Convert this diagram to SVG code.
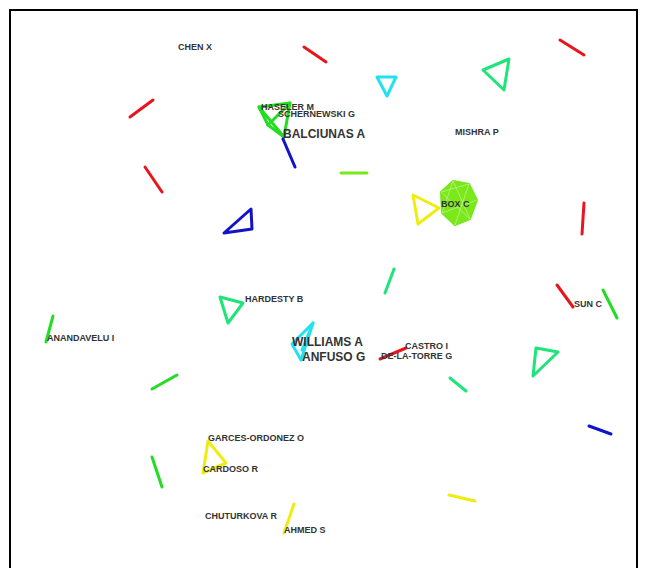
<svg xmlns="http://www.w3.org/2000/svg" width="648" height="568" viewBox="0 0 648 568">
<style>
.l{fill:none;stroke-width:3;stroke-linecap:round;stroke-linejoin:round}
.r{stroke:#e8141e}.g{stroke:#22dd22}.s{stroke:#1de57a}.c{stroke:#22e2f0}.b{stroke:#1212c8}.y{stroke:#eded12}.ch{stroke:#77e81a}
text{font-family:"Liberation Sans",Arial,sans-serif;font-weight:bold;fill:#333;font-size:9px}
text.big{font-size:12px}
</style>
<rect width="648" height="568" fill="#fff"/>
<rect x="10" y="10" width="627" height="570" fill="none" stroke="#000" stroke-width="2"/>
<g id="connectors">
<line class="l r" x1="130" y1="117" x2="153" y2="100"/>
<line class="l r" x1="145" y1="167" x2="162" y2="192"/>
<line class="l r" x1="304" y1="47" x2="326" y2="62"/>
<polygon class="l c" points="377,77 396,77 387,96"/>
<polygon class="l g" points="259,107 290,103 284,137 268,125"/>
<line class="l g" x1="259" y1="107" x2="284" y2="137"/>
<line class="l g" x1="290" y1="103" x2="268" y2="125"/>
<line class="l b" x1="283" y1="139" x2="295" y2="167"/>
<line class="l ch" x1="341" y1="173" x2="367" y2="173"/>
<polygon class="l s" points="483,70 509,59 504,90"/>
<line class="l r" x1="560" y1="40" x2="584" y2="55"/>
<polygon points="453,181 469,184 477,200 470,219 455,225 442,213 441,192" fill="#7be81a" stroke="#77e81a" stroke-width="2"/>
<g stroke="#b8f38a" stroke-width="0.8">
<line x1="453" y1="181" x2="470" y2="219"/><line x1="469" y1="184" x2="455" y2="225"/><line x1="477" y1="200" x2="442" y2="213"/><line x1="441" y1="192" x2="470" y2="219"/><line x1="453" y1="181" x2="442" y2="213"/><line x1="469" y1="184" x2="441" y2="192"/>
</g>
<polygon class="l y" points="413,195 439,208 418,224"/>
<line class="l r" x1="584" y1="203" x2="582" y2="234"/>
<polygon class="l b" points="251,209 252,229 224,233"/>
<line class="l s" x1="394" y1="269" x2="385" y2="293"/>
<polygon class="l s" points="220,297 243,303 228,323"/>
<polygon class="l c" points="313,323 292,344 301,360"/>
<line class="l c" x1="313" y1="323" x2="302" y2="350"/>
<line class="l r" x1="380" y1="359" x2="406" y2="348"/>
<line class="l r" x1="557" y1="285" x2="573" y2="307"/>
<line class="l g" x1="603" y1="290" x2="617" y2="318"/>
<polygon class="l s" points="536,348 558,352 533,376"/>
<line class="l s" x1="450" y1="378" x2="466" y2="391"/>
<line class="l g" x1="53" y1="316" x2="46" y2="342"/>
<line class="l g" x1="152" y1="389" x2="177" y2="375"/>
<line class="l g" x1="152" y1="457" x2="162" y2="487"/>
<polygon class="l y" points="208,441 226,463 203,473"/>
<line class="l y" x1="294" y1="504" x2="284" y2="533"/>
<line class="l b" x1="589" y1="426" x2="611" y2="434"/>
<line class="l y" x1="449" y1="495" x2="475" y2="501"/>
</g>
<g id="n-chen"><text x="178" y="50">CHEN X</text></g>
<g id="n-haseler"><text x="261" y="110">HASELER M</text></g>
<g id="n-schernewski"><text x="278" y="117">SCHERNEWSKI G</text></g>
<g id="n-balciunas"><text class="big" x="283" y="138">BALCIUNAS A</text></g>
<g id="n-mishra"><text x="455" y="135">MISHRA P</text></g>
<g id="n-box"><text x="441" y="207">BOX C</text></g>
<g id="n-hardesty"><text x="245" y="302">HARDESTY B</text></g>
<g id="n-anandavelu"><text x="47" y="341">ANANDAVELU I</text></g>
<g id="n-williams"><text class="big" x="292" y="346">WILLIAMS A</text></g>
<g id="n-anfuso"><text class="big" x="302" y="361">ANFUSO G</text></g>
<g id="n-castro"><text x="405" y="349">CASTRO I</text></g>
<g id="n-delatorre"><text x="381" y="359">DE-LA-TORRE G</text></g>
<g id="n-sun"><text x="574" y="307">SUN C</text></g>
<g id="n-garces"><text x="208" y="441">GARCES-ORDONEZ O</text></g>
<g id="n-cardoso"><text x="203" y="472">CARDOSO R</text></g>
<g id="n-chuturkova"><text x="205" y="519">CHUTURKOVA R</text></g>
<g id="n-ahmed"><text x="284" y="533">AHMED S</text></g>
</svg>
